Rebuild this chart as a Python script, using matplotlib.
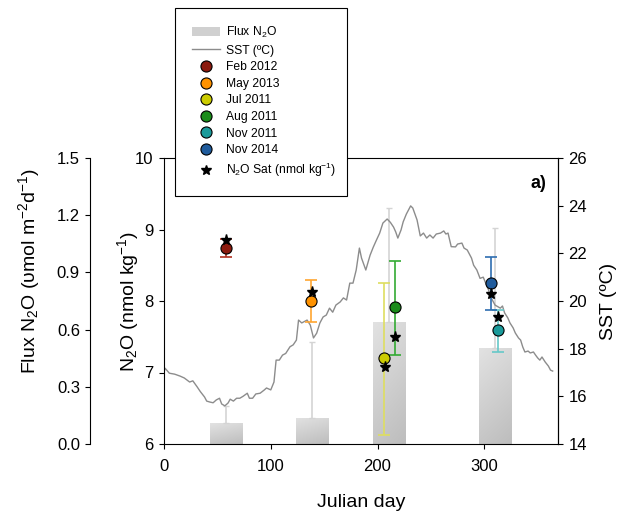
import numpy as np
import matplotlib
matplotlib.use("Agg")
import matplotlib.pyplot as plt
from matplotlib.lines import Line2D
from matplotlib.patches import Patch
from matplotlib.colors import LinearSegmentedColormap

plt.rcParams['font.family'] = ['Liberation Sans', 'DejaVu Sans']
plt.rcParams['mathtext.fontset'] = 'custom'
plt.rcParams['mathtext.rm'] = 'Liberation Sans'
plt.rcParams['mathtext.it'] = 'Liberation Sans:italic'
plt.rcParams['mathtext.bf'] = 'Liberation Sans:bold'

# ---------------- data ----------------
flux_day = [58, 139, 211, 310]
flux_val = [0.108, 0.138, 0.641, 0.505]
flux_err = [0.092, 0.397, 0.598, 0.629]

campaigns = ['Feb 2012', 'May 2013', 'Jul 2011', 'Aug 2011', 'Nov 2011', 'Nov 2014']
pt_day = [58, 138, 206, 216, 313, 306]
n2o_val = [8.74, 8.00, 7.20, 7.91, 7.59, 8.25]
n2o_err_lo = [0.13, 0.30, 1.07, 0.66, 0.31, 0.38]
n2o_err_hi = [0.13, 0.29, 1.05, 0.65, 0.29, 0.36]
sat_day = [58, 139, 207, 216, 313, 306]
sat_val = [8.85, 8.13, 7.07, 7.49, 7.77, 8.10]

pt_colors = ['#8B1A0E', '#FF9200', '#CCCC00', '#1A8C1A', '#1A9A9A', '#1F5B9C']
err_colors = ['#B03020', '#FFA530', '#DEDE60', '#33AA33', '#66C8C8', '#2E6DB0']

sst_day = [0, 1, 5, 10, 15, 19, 24, 27, 31, 34, 38, 40, 43, 46, 49, 52, 54, 57, 60, 62,
           65, 68, 71, 74, 78, 80, 83, 86, 90, 94, 96, 100, 103, 105, 108, 111, 114, 118,
           121, 124, 126, 129, 134, 137, 140, 143, 146, 149, 152, 155, 158, 161, 165, 168,
           171, 174, 177, 180, 183, 185, 189, 193, 196, 199, 202, 205, 209, 212, 215, 217,
           219, 222, 224, 227, 229, 231, 233, 237, 240, 243, 246, 249, 252, 255, 259, 262,
           264, 266, 269, 273, 275, 279, 281, 284, 286, 288, 290, 293, 296, 299, 302, 304,
           306, 310, 315, 317, 319, 322, 324, 327, 329, 332, 334, 336, 338, 341, 343, 346,
           348, 350, 352, 354, 357, 360, 362, 364]
sst_val = [17.00, 17.18, 16.97, 16.93, 16.85, 16.77, 16.60, 16.65, 16.40, 16.20, 15.97, 15.80,
           15.76, 15.73, 15.85, 15.92, 15.68, 15.60, 15.72, 15.88, 15.80, 15.92, 15.92, 16.00,
           16.13, 15.92, 15.92, 16.10, 16.13, 16.27, 16.35, 16.27, 16.60, 17.52, 17.52, 17.73,
           17.80, 18.08, 18.16, 18.36, 19.20, 19.08, 19.20, 18.99, 18.45, 18.65, 19.08, 19.33,
           19.41, 19.70, 19.53, 19.83, 19.96, 20.13, 20.04, 20.75, 20.75, 21.30, 22.22, 21.80,
           21.30, 21.92, 22.26, 22.56, 22.85, 23.27, 23.44, 23.30, 23.10, 22.90, 22.64, 22.98,
           23.32, 23.65, 23.82, 23.99, 23.90, 23.40, 22.73, 22.85, 22.64, 22.77, 22.64, 22.81,
           22.85, 22.94, 22.81, 22.85, 22.28, 22.27, 22.39, 22.43, 22.22, 22.14, 21.97, 21.80,
           21.50, 21.30, 20.95, 21.00, 20.67, 20.46, 20.17, 19.83, 19.70, 19.79, 19.50, 19.29,
           19.08, 18.87, 18.66, 18.45, 18.36, 18.07, 17.86, 17.90, 17.82, 17.86, 17.73, 17.61,
           17.52, 17.65, 17.44, 17.27, 17.10, 17.06]

x_ticks = [0, 100, 200, 300]
n2o_ticks = [6, 7, 8, 9, 10]
flux_ticks = [0.0, 0.3, 0.6, 0.9, 1.2, 1.5]
sst_ticks = [14, 16, 18, 20, 22, 24, 26]

# ---------------- figure ----------------
W, H = 623, 518
fig = plt.figure(figsize=(W / 100, H / 100), dpi=100)
L, R, T, B = 164, 558, 158, 444
ax = fig.add_axes([L / W, 1 - B / H, (R - L) / W, (B - T) / H])
axf = ax.twinx()
axs = ax.twinx()

tick_kw = dict(direction='out', length=3.5, width=0.8, labelsize=12, pad=4)

axf.set_zorder(1)
ax.set_zorder(3)
axs.set_zorder(2)
ax.patch.set_visible(False)
axs.patch.set_visible(False)

# flux axis (left, offset)
axf.yaxis.set_ticks_position('left')
axf.yaxis.set_label_position('left')
for s in ['right', 'top', 'bottom']:
    axf.spines[s].set_visible(False)
axf.spines['left'].set_position(('outward', 53))
axf.spines['left'].set_linewidth(0.8)
axf.set_ylim(0, 1.5)
axf.set_yticks(flux_ticks)
axf.set_yticklabels([f'{v:.1f}' for v in flux_ticks])
axf.tick_params(axis='y', **tick_kw)

bar_cmap = LinearSegmentedColormap.from_list('bargrey', ['#e2e2e2', '#bdbdbd'])
bars = axf.bar(flux_day, flux_val, width=30.6, color='#d2d2d2', edgecolor='none', zorder=1)
grad = np.add.outer(np.linspace(0, 0.75, 60), np.linspace(0, 0.25, 60))
for b in bars:
    x0, y0 = b.get_x(), b.get_y()
    im = axf.imshow(grad, cmap=bar_cmap, vmin=0, vmax=1, aspect='auto',
                    extent=[x0, x0 + b.get_width(), y0, y0 + b.get_height()],
                    origin='upper', zorder=1.5, interpolation='bilinear')
    im.set_clip_path(b)
axf.errorbar(flux_day, flux_val, yerr=[np.zeros(len(flux_err)), flux_err], fmt='none',
             ecolor='#d4d4d4', elinewidth=1.2, capsize=2, capthick=1, zorder=2)
axf.set_xlim(0, 369)

# SST axis (right)
axs.plot(sst_day, sst_val, color='#8c8c8c', lw=1.0)
axs.set_ylim(14, 26)
axs.set_yticks(sst_ticks)
axs.tick_params(axis='y', **tick_kw)
axs.spines['right'].set_linewidth(0.8)
for s in ['left', 'top', 'bottom']:
    axs.spines[s].set_visible(False)

# main N2O axis
for i in range(len(campaigns)):
    ax.errorbar(pt_day[i], n2o_val[i], yerr=[[n2o_err_lo[i]], [n2o_err_hi[i]]], fmt='none',
                ecolor=err_colors[i], elinewidth=1.2, capsize=4, capthick=1.2, zorder=3)
    ax.plot(pt_day[i], n2o_val[i], 'o', ms=8, mfc=pt_colors[i], mec='black', mew=0.8, zorder=4)
ax.plot(sat_day, sat_val, '*', color='black', ms=8, zorder=5, lw=0)
ax.set_xlim(0, 369)
ax.set_ylim(6, 10)
ax.set_xticks(x_ticks)
ax.set_yticks(n2o_ticks)
ax.tick_params(axis='both', **tick_kw)
ax.tick_params(axis='x', pad=7)
for s in ax.spines.values():
    s.set_linewidth(0.8)

ax.text((546 - L) / (R - L), (B - 184) / (B - T), 'a)', transform=ax.transAxes,
        ha='right', va='center', fontsize=13, fontweight='bold')

# labels
ax.set_xlabel('Julian day', fontsize=14)
ax.xaxis.set_label_coords(0.5, (B - 494) / (B - T))
ax.set_ylabel('N$_2$O (nmol kg$^{-1}$)', fontsize=14)
ax.yaxis.set_label_coords((141 - L) / (R - L), 0.5)
axf.set_ylabel('Flux N$_2$O (υmol m$^{-2}$d$^{-1}$)', fontsize=14)
axf.yaxis.set_label_coords((42 - L) / (R - L), (B - 271) / (B - T))
axs.set_ylabel('SST (ºC)', fontsize=14)
axs.yaxis.set_label_coords((600 - L) / (R - L), 0.5)

# legend
handles = [Patch(facecolor='#d0d0d0', edgecolor='none', label='Flux N$_2$O'),
           Line2D([], [], color='#8c8c8c', lw=1.0, label='SST (ºC)')]
for i, c in enumerate(campaigns):
    handles.append(Line2D([], [], marker='o', ls='none', ms=8, mfc=pt_colors[i],
                          mec='black', mew=0.8, label=c))
handles.append(Line2D([], [], marker='*', ls='none', ms=7, color='black',
                      label='N$_2$O Sat (nmol kg$^{-1}$)'))
leg = fig.legend(handles=handles, loc='upper left',
                 bbox_to_anchor=(175 / W, 1 - 8 / H, 172 / W, 0.0), mode='expand',
                 fontsize=8.7, frameon=True, fancybox=False, edgecolor='black',
                 framealpha=1, borderpad=1.4, handlelength=2.3, handletextpad=0.5,
                 labelspacing=0.38, borderaxespad=0)
leg.get_frame().set_linewidth(0.8)

fig.savefig('out.png', dpi=100)
